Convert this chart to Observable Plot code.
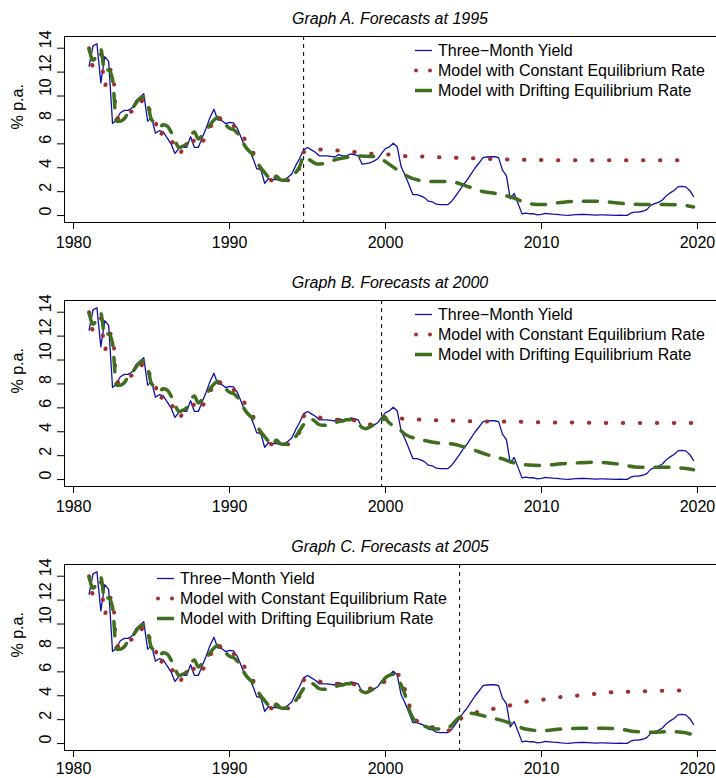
<!DOCTYPE html>
<html><head><meta charset="utf-8">
<script src="https://cdn.jsdelivr.net/npm/d3@7"></script>
<script src="https://cdn.jsdelivr.net/npm/@observablehq/plot@0.6"></script>
<style>
body{margin:0;background:#fff;overflow:hidden;}
#chart{width:716px;}
#chart svg{display:block;}
</style></head><body><div id="chart"></div>
<script>
// ---- data ----
const firstQuarter = 1981; // yield data: quarterly, 1981Q1 .. 2019Q4
const yieldQ = [
  12.5,14.2,14.37,11.1, 13.3,12.9,7.7,8.0, 8.6,8.8,8.8,9.0, 9.6,9.9,10.2,7.9,
  8.2,6.9,7.1,7.0, 6.5,6.0,5.2,5.6, 5.7,5.7,6.6,5.7, 5.7,6.5,7.3,8.2,
  8.9,8.0,7.95,7.7, 7.8,7.75,7.3,6.5, 5.7,5.5,4.8,3.9, 3.9,2.7,3.1,3.0,
  3.0,2.95,3.0,3.2, 3.5,4.2,4.8,5.5, 5.7,5.5,5.3,5.0, 5.0,5.0,4.95,4.9,
  5.1,5.0,5.0,5.15, 5.1,5.0,4.3,4.35, 4.4,4.55,4.75,5.2, 5.6,5.75,6.05,5.75,
  4.1,3.4,2.6,1.76, 1.76,1.65,1.5,1.2, 1.15,0.95,0.92,0.92, 0.92,1.2,1.65,2.1,
  2.6,3.0,3.5,4.0, 4.4,4.85,4.9,4.92, 4.92,4.85,3.8,3.35, 1.4,1.85,1.0,0.14,
  0.2,0.15,0.15,0.06, 0.1,0.18,0.15,0.12, 0.1,0.05,0.03,0.02, 0.05,0.08,0.1,0.09,
  0.08,0.06,0.04,0.05, 0.05,0.03,0.03,0.02, 0.03,0.02,0.02,0.22, 0.28,0.3,0.36,0.5,
  0.85,1.0,1.1,1.3, 1.65,1.9,2.1,2.4, 2.45,2.4,2.1,1.6
];
// in-sample fitted values, quarterly 1981Q1 .. 2004Q4
const constFit = [
  14.0,12.5,13.3,13.5, 10.8,12.2,12.2,8.4, 8.0,8.2,8.5,8.7, 8.7,9.2,9.8,9.6,
  8.0,7.8,6.6,7.0, 6.9,6.3,5.9,5.15, 5.5,5.6,5.85,6.3, 5.75,6.2,6.5,7.3,
  8.0,8.4,7.9,7.7, 7.45,7.5,7.3,7.0, 6.3,5.7,5.3,4.6, 3.9,3.8,3.1,2.95,
  3.0,2.9,2.95,2.95, 3.1,3.5,4.05,5.3, 5.4,5.35,5.25,5.2, 5.1,5.05,5.0,5.0,
  5.0,5.05,5.0,5.0, 4.95,4.85,4.7,4.6, 4.6,4.6,4.6,4.9, 5.3,5.65,5.75,5.75,
  5.7,4.5,3.3,2.6, 1.9,1.75,1.6,1.45, 1.37,1.3,1.2,1.1, 1.08,1.3,1.6,2.0
];
const driftFit = [
  13.9,13.0,13.4,13.9, 12.0,12.2,11.4,7.9, 7.9,8.1,8.6,8.9, 9.4,9.8,9.9,9.4,
  8.0,7.8,7.4,7.6, 7.5,7.0,6.3,5.7, 5.8,6.0,6.6,7.0, 6.4,6.7,7.1,7.6,
  8.0,8.2,7.9,7.6, 7.3,7.2,6.9,6.4, 5.8,5.4,5.1,4.5, 4.0,3.6,3.2,2.85,
  3.3,3.0,2.95,3.0, 3.2,3.6,4.1,4.6, 5.0,5.05,4.85,4.6, 4.55,4.55,4.65,4.75,
  4.85,4.9,5.0,5.0, 4.9,4.7,4.35,4.25, 4.4,4.6,4.85,5.1, 5.5,5.7,5.8,5.6,
  4.9,4.1,2.9,2.15, 1.8,1.6,1.45,1.35, 1.28,1.22,1.22,1.22, 1.3,1.55,1.92,2.2
];
const forecastDates = [1994.75, 1999.75, 2004.75];
const panelTitles = ["Graph A. Forecasts at 1995", "Graph B. Forecasts at 2000", "Graph C. Forecasts at 2005"];
// forecasts: [year, value]
const constForecastA = [[1994.75,5.3],[1995.9,5.52],[1997.0,5.44],[1998.1,5.3],[1999.15,5.16],[2000.25,5.1],[2001.3,4.97],[2002.35,4.94],[2003.4,4.88],[2004.5,4.83],[2005.6,4.8],[2006.7,4.74],[2007.8,4.69],[2008.9,4.66],[2010.0,4.64],[2012.0,4.63],[2014.0,4.63],[2016.0,4.63],[2019.75,4.63]];
const driftForecastA = [[1994.75,5.0],[1995.2,4.6],[1995.6,4.32],[1996.0,4.35],[1996.5,4.55],[1997.0,4.75],[1997.6,4.88],[1998.2,4.98],[1999.1,4.95],[1999.6,4.88],[1999.9,4.6],[2000.67,3.9],[2001.3,3.35],[2002.15,2.95],[2003.2,2.85],[2004.1,2.85],[2005.1,2.51],[2006.15,2.04],[2007.2,1.81],[2008.1,1.53],[2009.2,1.0],[2010.0,0.92],[2011.2,1.09],[2012.5,1.2],[2013.5,1.2],[2014.4,1.12],[2015.45,0.98],[2016.7,0.92],[2017.8,0.92],[2018.8,0.9],[2019.75,0.72]];
const constForecastB = [[1999.75,4.9],[2000.25,5.15],[2001.4,5.07],[2002.5,5.0],[2003.6,4.95],[2004.7,4.92],[2005.8,4.87],[2006.9,4.86],[2008.0,4.84],[2009.1,4.82],[2010.2,4.79],[2012.0,4.77],[2014.0,4.74],[2016.0,4.73],[2019.75,4.73]];
const driftForecastB = [[1999.75,4.9],[1999.93,5.28],[2000.15,4.87],[2000.8,4.31],[2001.3,3.76],[2002.3,3.34],[2003.4,3.06],[2004.3,2.98],[2004.9,2.78],[2005.6,2.5],[2006.5,2.09],[2007.5,1.73],[2008.1,1.45],[2009.2,1.22],[2010.1,1.17],[2011.1,1.31],[2012.2,1.39],[2013.3,1.45],[2014.3,1.39],[2015.2,1.25],[2016.0,1.06],[2017.1,1.03],[2018.2,1.03],[2018.9,0.97],[2019.75,0.83]];
const constForecastC = [[2004.75,2.0],[2005.8,2.6],[2006.9,2.9],[2007.9,3.17],[2009.0,3.5],[2010.1,3.67],[2011.1,3.87],[2012.2,4.0],[2013.3,4.14],[2014.35,4.28],[2015.5,4.33],[2016.5,4.37],[2017.6,4.42],[2018.7,4.43],[2019.75,4.45]];
const driftForecastC = [[2004.75,2.2],[2005.3,2.56],[2005.8,2.48],[2006.6,2.2],[2007.5,1.92],[2008.3,1.56],[2008.95,1.22],[2010.0,1.08],[2011.3,1.22],[2012.6,1.28],[2013.9,1.28],[2015.0,1.22],[2016.0,1.0],[2017.1,0.95],[2018.2,1.0],[2019.0,0.95],[2019.75,0.72]];
const constForecasts = [constForecastA, constForecastB, constForecastC];
const driftForecasts = [driftForecastA, driftForecastB, driftForecastC];
const xTicks = [1980, 1990, 2000, 2010, 2020];
const yTicks = [0, 2, 4, 6, 8, 10, 12, 14];
const legendLabels = ["Three\u2212Month Yield", "Model with Constant Equilibrium Rate", "Model with Drifting Equilibrium Rate"];
const legendX = [415, 415, 157];

// ---- styles / layout ----
const BLUE = "#1010a8", RED = "#a03030", GREEN = "#3f6e1f";
const FONT = "'Liberation Sans', Arial, Helvetica, sans-serif";
const W = 716, MT = 36, ML = 64, PH = 186;
const svgHeights = [264, 264, 250];
const tickPads = [7, 7, 5];
const xDomain = [1979.42, 2021.22], yDomain = [-0.58, 14.98];

const toRows = arr => arr.map((v, k) => ({x: firstQuarter + k / 4, y: v}));
const pairRows = arr => arr.map(([x, y]) => ({x, y}));

function panel(i) {
  const fd = forecastDates[i];
  const H = svgHeights[i];
  const yieldData = toRows(yieldQ);
  const constData = toRows(constFit).filter(d => d.x < fd).concat(pairRows(constForecasts[i]));
  const driftData = toRows(driftFit).filter(d => d.x < fd).concat(pairRows(driftForecasts[i]));
  const p = Plot.plot({
    width: W, height: H, marginTop: MT, marginBottom: H - MT - PH, marginLeft: ML, marginRight: 0,
    style: {fontFamily: FONT, fontSize: "16px", color: "#000", background: "#fff", overflow: "hidden"},
    x: {domain: xDomain, label: null},
    y: {domain: yDomain, label: null},
    marks: [
      Plot.ruleX([fd], {stroke: "#000", strokeWidth: 1, strokeDasharray: "4,4"}),
      Plot.line(yieldData, {x: "x", y: "y", stroke: BLUE, strokeWidth: 1.3}),
      Plot.line(constData, {x: "x", y: "y", stroke: RED, strokeWidth: 4, strokeDasharray: "0.5,16.5", strokeLinecap: "round", curve: "monotone-x"}),
      Plot.line(driftData, {x: "x", y: "y", stroke: GREEN, strokeWidth: 3.5, strokeDasharray: "14,12", strokeLinecap: "round", curve: "monotone-x"}),
      Plot.ruleY([yDomain[0], yDomain[1]], {stroke: "#000", strokeWidth: 1}),
      Plot.ruleX([xDomain[0]], {stroke: "#000", strokeWidth: 1}),
      Plot.axisX(xTicks, {tickSize: 7, tickPadding: tickPads[i], tickFormat: d => String(d), fontSize: 16}),
      Plot.axisY(yTicks, {tickSize: 7, tickFormat: () => ""}),
      Plot.text(yTicks, {y: d => d, frameAnchor: "left", dx: -19, rotate: -90, text: d => String(d), fontSize: 16}),
      Plot.text(["% p.a."], {frameAnchor: "left", dx: -47, rotate: -90, text: d => d, fontSize: 16})
    ]
  });
  const svg = d3.select(p.tagName === "svg" ? p : p.querySelector("svg"));
  svg.append("text")
    .attr("x", ML + (W - ML) / 2).attr("y", 23.5)
    .attr("text-anchor", "middle").attr("font-style", "italic")
    .attr("font-size", 16).attr("font-family", FONT).attr("fill", "#000")
    .text(panelTitles[i]);
  const lg = svg.append("g").attr("transform", `translate(${legendX[i]},${MT})`)
    .attr("font-family", FONT).attr("font-size", 16).attr("text-anchor", "start");
  const rows = [14.5, 34.5, 54.5];
  lg.append("line").attr("x1", 0).attr("x2", 17).attr("y1", rows[0]).attr("y2", rows[0]).attr("stroke", BLUE).attr("stroke-width", 1.3);
  lg.append("circle").attr("cx", 1).attr("cy", rows[1]).attr("r", 2).attr("fill", RED);
  lg.append("circle").attr("cx", 15).attr("cy", rows[1]).attr("r", 2).attr("fill", RED);
  lg.append("line").attr("x1", 0).attr("x2", 17).attr("y1", rows[2]).attr("y2", rows[2]).attr("stroke", GREEN).attr("stroke-width", 3.5);
  legendLabels.forEach((t, k) => {
    lg.append("text").attr("x", 23).attr("y", rows[k]).attr("dy", "0.35em")
      .attr("text-anchor", "start").attr("fill", "#000").text(t);
  });
  return p;
}

const root = document.getElementById("chart");
for (let i = 0; i < 3; i++) root.appendChild(panel(i));
</script>
</body></html>
